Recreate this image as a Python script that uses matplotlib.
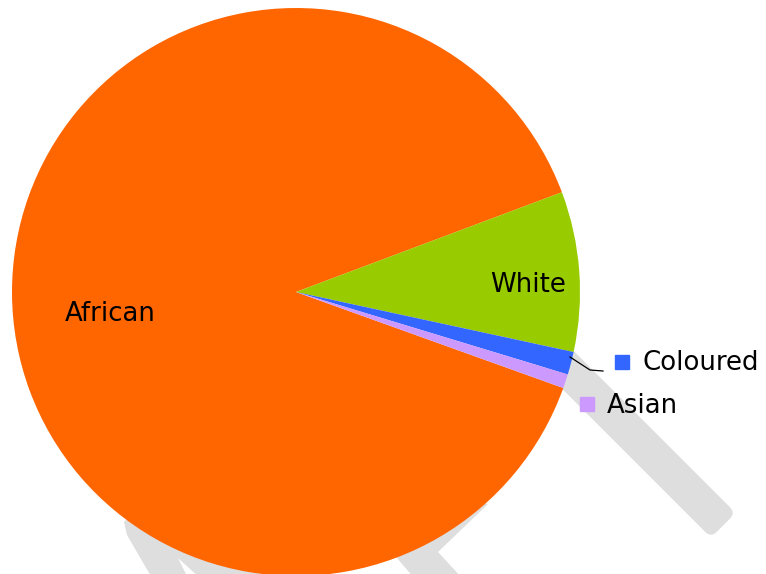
import matplotlib.pyplot as plt
from matplotlib.patches import Polygon, FancyBboxPatch
from matplotlib.transforms import Affine2D

# population groups and their shares (%)
grupos = ["African", "White", "Coloured", "Asian"]
porcentajes = [88.8, 9.1, 1.3, 0.8]
colores = ["#FF6600", "#99CC00", "#3366FF", "#CC99FF"]

W, H = 766, 574
SOMBRA = "#dedede"


def py(y):
    # pixel row (top-down) -> axis y (bottom-up)
    return H - y


fig = plt.figure(figsize=(W / 100, H / 100), dpi=100)
ax = fig.add_axes([0, 0, 1, 1])

# sombra gris detras del pie
x0, y0 = 555, py(357)
barra = FancyBboxPatch((x0, y0 - 17.5), 238, 35,
                       boxstyle="round,pad=0,rounding_size=8",
                       facecolor=SOMBRA, edgecolor="none", zorder=0)
barra.set_transform(Affine2D().rotate_deg_around(x0, y0, -45) + ax.transData)
ax.add_patch(barra)
sombra1 = [(140, 505), (124, 522), (127, 535), (152, 578), (188, 578),
           (178, 558), (200, 578), (290, 578), (290, 520)]
sombra2 = [(380, 540), (397, 558), (414, 578), (462, 578), (438, 552),
           (488, 504), (460, 500)]
for s in (sombra1, sombra2):
    ax.add_patch(Polygon([(x, py(y)) for x, y in s], closed=True,
                         facecolor=SOMBRA, edgecolor="none", zorder=0))

wedges, _ = ax.pie(porcentajes, colors=colores, startangle=340.24,
                   counterclock=False, center=(296, py(292)), radius=284,
                   wedgeprops=dict(linewidth=0))

fs = 18.7
ax.text(110, py(314), grupos[0], fontsize=fs, ha="center", va="center")
ax.text(528, py(285), grupos[1], fontsize=fs, ha="center", va="center")

# etiqueta Coloured con linea guia
ax.plot([570, 590, 603], [py(357), py(370), py(371)], color="black", lw=0.9)
ax.plot(622, py(361.5), marker="s", markersize=10, color=colores[2], lw=0)
ax.text(643, py(363), grupos[2], fontsize=fs, ha="left", va="center")

ax.plot(586.5, py(404), marker="s", markersize=10, color=colores[3], lw=0)
ax.text(607, py(406), grupos[3], fontsize=fs, ha="left", va="center")

ax.set_xlim(0, W)
ax.set_ylim(0, H)
ax.axis("off")

fig.savefig("out.png", dpi=100)
